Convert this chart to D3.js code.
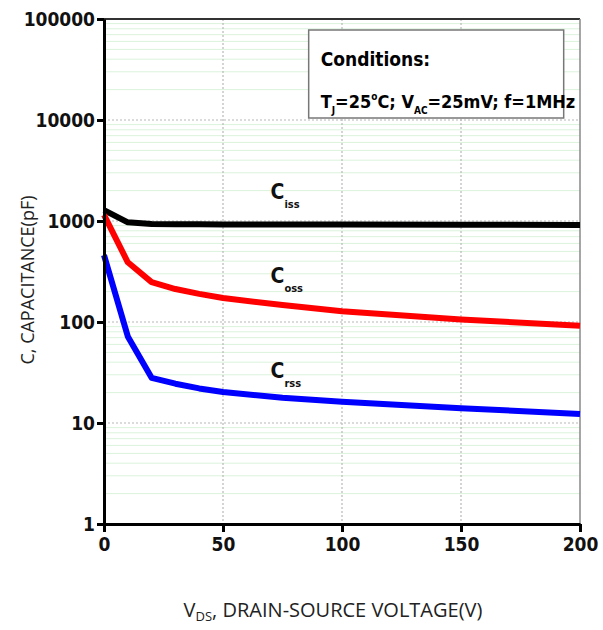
<!DOCTYPE html>
<html>
<head>
<meta charset="utf-8">
<script src="https://cdn.jsdelivr.net/npm/d3@7"></script>
<style>
  body { margin: 0; background: #fff; }
  svg { display: block; }
</style>
</head>
<body>
<svg width="603" height="630"></svg>
<script>
// chart values
const vds = [0, 10, 20, 30, 40, 50, 75, 100, 150, 200];
const ciss = [1280, 970, 935, 930, 928, 925, 925, 925, 920, 915];
const coss = [1150, 390, 248, 212, 190, 173, 147, 128, 106, 92];
const crss = [460, 72, 28, 24.5, 22, 20.3, 17.8, 16.2, 14, 12.3];
const yTicks = [1, 10, 100, 1000, 10000, 100000];
const xTicks = [0, 50, 100, 150, 200];

const margin = { top: 19, right: 23, bottom: 106, left: 104 },
    width = 603 - margin.left - margin.right,
    height = 630 - margin.top - margin.bottom;

const narrow = "'DejaVu Sans Condensed', 'Liberation Sans Narrow', Arial, sans-serif"

const svg = d3.select("svg")
const g = svg.append("g")
    .attr("transform", `translate(${margin.left}, ${margin.top})`)

const x = d3.scaleLinear().domain([0, 200]).range([0, width])
const y = d3.scaleLog().domain([1, 100000]).range([height, 0])

// minor grid (light green)
const minors = []
for (let d = 1; d < 100000; d *= 10) {
    for (let k = 2; k <= 9; k++) minors.push(d * k)
}
g.selectAll(".minor").data(minors).enter().append("line")
    .attr("x1", 0).attr("x2", width)
    .attr("y1", d => y(d)).attr("y2", d => y(d))
    .attr("stroke", "#dcf3dc").attr("stroke-width", 1)

// major grid dotted gray
g.selectAll(".hmaj").data(yTicks.slice(1, -1)).enter().append("line")
    .attr("x1", 0).attr("x2", width)
    .attr("y1", d => y(d)).attr("y2", d => y(d))
    .attr("stroke", "#b8b8b8").attr("stroke-width", 1.2)
    .attr("stroke-dasharray", "2,2")
g.selectAll(".vmaj").data(xTicks.slice(1, -1)).enter().append("line")
    .attr("y1", 0).attr("y2", height)
    .attr("x1", d => x(d)).attr("x2", d => x(d))
    .attr("stroke", "#b8b8b8").attr("stroke-width", 1.2)
    .attr("stroke-dasharray", "2,2")

// frame top / right
g.append("line").attr("x1", 0).attr("x2", width).attr("y1", 0).attr("y2", 0)
    .attr("stroke", "#333").attr("stroke-width", 2)
g.append("line").attr("x1", width).attr("x2", width).attr("y1", 0).attr("y2", height)
    .attr("stroke", "#888").attr("stroke-width", 1.5)

// conditions box
const box = g.append("g").attr("transform", `translate(${x(86)}, 11)`)
box.append("rect")
    .attr("width", 255).attr("height", 88)
    .attr("fill", "#fff").attr("stroke", "#777").attr("stroke-width", 1.5)
box.append("text")
    .attr("x", 12).attr("y", 36)
    .attr("font-family", narrow)
    .attr("font-weight", "bold").attr("font-size", "19px")
    .text("Conditions:")
const cond = box.append("text")
    .attr("x", 12).attr("y", 78)
    .attr("font-family", narrow)
    .attr("font-weight", "bold").attr("font-size", "18px")
cond.append("tspan").text("T")
cond.append("tspan").attr("font-size", "10px").attr("dy", 6).text("J")
cond.append("tspan").attr("dy", -6).text("=25")
cond.append("tspan").attr("font-size", "10px").attr("dy", -8).text("o")
cond.append("tspan").attr("dy", 8).text("C; V")
cond.append("tspan").attr("font-size", "10px").attr("dy", 6).text("AC")
cond.append("tspan").attr("dy", -6).text("=25mV; f=1MHz")

// curves
const line = d3.line()
    .x((d, i) => x(vds[i]))
    .y(d => y(d))
const series = [
    { name: "iss", vals: ciss, color: "#000000" },
    { name: "oss", vals: coss, color: "#ff0000" },
    { name: "rss", vals: crss, color: "#0000ff" }
]
g.selectAll(".curve").data(series).enter().append("path")
    .attr("d", d => line(d.vals))
    .attr("fill", "none")
    .attr("stroke", d => d.color)
    .attr("stroke-width", 6)
    .attr("stroke-linejoin", "round")

// curve labels
const labelPos = [{ v: 75, c: 1650 }, { v: 75, c: 245 }, { v: 75, c: 28 }]
series.forEach((s, i) => {
    const t = g.append("text")
        .attr("x", x(labelPos[i].v) - 12)
        .attr("y", y(labelPos[i].c))
        .attr("font-family", narrow)
        .attr("font-weight", "bold")
        .attr("font-size", "21px")
        .attr("fill", "#111")
    t.append("tspan").text("C")
    t.append("tspan").attr("font-size", "11px").attr("dy", 9).text(s.name)
})

// axes
const yAxis = g.append("g")
    .call(d3.axisLeft(y).tickValues(yTicks).tickFormat(d3.format("d")).tickSize(7).tickSizeOuter(0))
yAxis.select(".domain").attr("stroke-width", 3).attr("stroke", "#000")
yAxis.selectAll(".tick line").attr("stroke-width", 3)
yAxis.selectAll("text").attr("font-family", narrow).attr("font-weight", "bold")
    .attr("font-size", "19px").attr("fill", "#111").attr("x", -9)

const xAxis = g.append("g")
    .attr("transform", `translate(0, ${height})`)
    .call(d3.axisBottom(x).tickValues(xTicks).tickSize(8).tickSizeOuter(0))
xAxis.select(".domain").attr("stroke-width", 3).attr("stroke", "#000")
xAxis.selectAll(".tick line").attr("stroke-width", 3)
xAxis.selectAll("text").attr("font-family", narrow).attr("font-weight", "bold")
    .attr("font-size", "19px").attr("fill", "#111").attr("y", 14)

// axis labels
const xl = svg.append("text")
    .attr("x", 333)
    .attr("y", 617)
    .attr("text-anchor", "middle")
    .attr("font-family", "'Open Sans', 'Noto Sans', sans-serif")
    .attr("font-size", "20px")
    .attr("fill", "#222")
xl.append("tspan").text("V")
xl.append("tspan").attr("font-size", "13px").attr("dy", 4).text("DS")
xl.append("tspan").attr("dy", -4).text(", DRAIN-SOURCE VOLTAGE(V)")

svg.append("text")
    .attr("transform", `translate(34, 280) rotate(-90)`)
    .attr("text-anchor", "middle")
    .attr("font-family", "'Open Sans', 'Noto Sans', sans-serif")
    .attr("font-size", "18px")
    .attr("fill", "#222")
    .text("C, CAPACITANCE(pF)")
</script>
</body>
</html>
